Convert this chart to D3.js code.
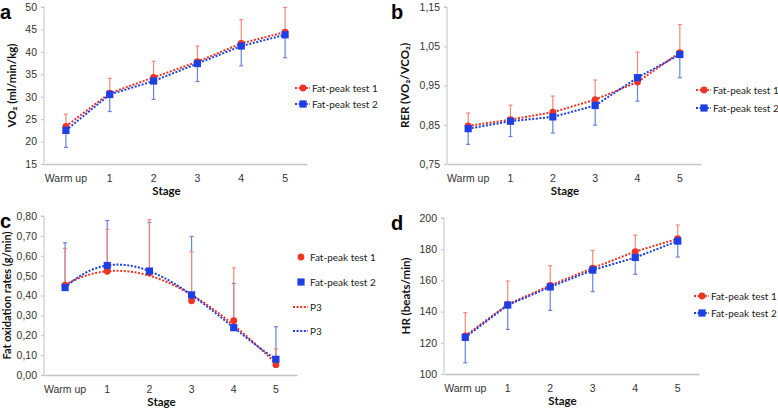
<!DOCTYPE html>
<html>
<head>
<meta charset="utf-8">
<script src="https://cdn.jsdelivr.net/npm/d3@7"></script>
<style>
	body { margin: 0; background: #fff; overflow: hidden; }
	svg { display: block; font-family: Lato, "Open Sans", sans-serif; }
	.tick text { font-size: 10.5px; fill: #333; }
	.axis-title { font-size: 11.5px; font-weight: bold; fill: #111; }
	.panel-letter { font-family: "Liberation Sans", Arial, sans-serif; font-size: 20px; font-weight: bold; }
	.legend text { font-size: 10px; fill: #222; }
</style>
</head>
<body>
<svg id="chart" width="778" height="410"></svg>
<script>

const STAGES = ['Warm up', '1', '2', '3', '4', '5'];

// a: VO2
const VO2_T1 = [23.4, 30.8, 34.3, 37.8, 41.9, 44.4];
const VO2_T2 = [22.5, 30.5, 33.5, 37.4, 41.3, 43.8];
const VO2_T1_UP = [26.1, 34.1, 37.9, 41.3, 47.2, 49.9];
const VO2_T2_LOW = [18.7, 26.7, 29.4, 33.4, 36.9, 38.7];
const VO2_TICKS = [15, 20, 25, 30, 35, 40, 45, 50];

// b: RER
const RER_T1 = [0.847, 0.863, 0.882, 0.914, 0.959, 1.034];
const RER_T2 = [0.840, 0.859, 0.870, 0.899, 0.970, 1.029];
const RER_T1_UP = [0.880, 0.900, 0.923, 0.964, 1.035, 1.105];
const RER_T2_LOW = [0.800, 0.820, 0.829, 0.849, 0.910, 0.970];
const RER_TICKS = [0.75, 0.85, 0.95, 1.05, 1.15];

// c: fat oxidation
const FAT_T1 = [0.452, 0.522, 0.515, 0.373, 0.273, 0.052];
const FAT_T2 = [0.440, 0.551, 0.523, 0.403, 0.238, 0.079];
const FAT_T1_UP = [0.637, 0.733, 0.782, 0.620, 0.539, 0.131];
const FAT_T2_UP = [0.665, 0.777, 0.767, 0.697, 0.461, 0.243];
const FAT_TICKS = [0, 0.1, 0.2, 0.3, 0.4, 0.5, 0.6, 0.7, 0.8];

// d: HR
const HR_T1 = [124.5, 144.6, 156.8, 167.9, 178.5, 186.7];
const HR_T2 = [123.5, 144.2, 155.8, 166.6, 174.7, 185.2];
const HR_T1_UP = [139.3, 159.6, 169.4, 179.2, 189.0, 195.5];
const HR_T2_LOW = [107.2, 128.6, 140.8, 152.8, 163.9, 175.0];
const HR_TICKS = [100, 120, 140, 160, 180, 200];

const RED = '#ee3424';
const BLUE = '#1d3fe4';
const RED_BAR = '#f08a7c';
const BLUE_BAR = '#6a84dc';
const AXIS_GREY = '#c4c4c4';

const svg = d3.select('#chart');
const comma = f => (v => d3.format(f)(v).replace('.', ','));

// least squares cubic (Excel "P3" trendline), x = 1..n
function cubicFit(ys) {
	const n = 4;
	const A = [], b = [];
	for (let i = 0; i < n; i++) {
		A.push(new Array(n).fill(0));
		b.push(0);
	}
	ys.forEach((y, k) => {
		const x = k + 1;
		for (let i = 0; i < n; i++) {
			for (let j = 0; j < n; j++) A[i][j] += Math.pow(x, i + j);
			b[i] += y * Math.pow(x, i);
		}
	});
	for (let i = 0; i < n; i++) {
		let p = i;
		for (let r = i + 1; r < n; r++) if (Math.abs(A[r][i]) > Math.abs(A[p][i])) p = r;
		[A[i], A[p]] = [A[p], A[i]];
		[b[i], b[p]] = [b[p], b[i]];
		for (let r = i + 1; r < n; r++) {
			const f = A[r][i] / A[i][i];
			for (let c = i; c < n; c++) A[r][c] -= f * A[i][c];
			b[r] -= f * b[i];
		}
	}
	const coef = new Array(n).fill(0);
	for (let i = n - 1; i >= 0; i--) {
		let s = b[i];
		for (let c = i + 1; c < n; c++) s -= A[i][c] * coef[c];
		coef[i] = s / A[i][i];
	}
	return x => coef[0] + coef[1] * x + coef[2] * x * x + coef[3] * x * x * x;
}

function drawMarker(g, shape, color, x, y) {
	if (shape === 'circle') {
		g.append('circle').attr('cx', x).attr('cy', y).attr('r', 3.4).attr('fill', color);
	} else {
		g.append('rect').attr('x', x - 3.6).attr('y', y - 3.6)
			.attr('width', 7.2).attr('height', 7.2).attr('fill', color);
	}
}

function drawPanel(cfg) {
	const g = svg.append('g');
	const x = d3.scaleBand().domain(STAGES).range([cfg.x0, cfg.x1]).padding(0);
	const y = d3.scaleLinear().domain(cfg.domain).range([cfg.yBottom, cfg.yTop]);
	const cx = i => x(STAGES[i]) + x.bandwidth() / 2;

	// axes
	const yAxis = g.append('g')
		.attr('transform', `translate(${cfg.x0},0)`)
		.call(d3.axisLeft(y).tickValues(cfg.ticks).tickFormat(cfg.fmt).tickSize(3).tickPadding(4));
	yAxis.selectAll('line, path').attr('stroke', AXIS_GREY);
	yAxis.select('.domain').attr('d', `M-3,${cfg.yTop}H0V${cfg.yBottom}`);

	const xAxis = g.append('g')
		.attr('transform', `translate(0,${cfg.yBottom})`)
		.call(d3.axisBottom(x).tickSize(0).tickPadding(11));
	xAxis.select('.domain').attr('stroke', AXIS_GREY).attr('stroke-width', 1.3);
	xAxis.selectAll('.tick text').attr('font-size', '10.5px');
	yAxis.selectAll('.tick text').attr('font-size', '10.5px');

	g.append('text').attr('class', 'axis-title')
		.attr('x', (cfg.x0 + cfg.x1) / 2 - 9).attr('y', cfg.yBottom + 31)
		.attr('text-anchor', 'middle').text('Stage');

	g.append('text').attr('class', 'axis-title')
		.attr('transform', `translate(${cfg.titleX},${(cfg.yTop + cfg.yBottom) / 2}) rotate(-90)`)
		.attr('text-anchor', 'middle').style('font-size', cfg.titleSize || null).text(cfg.yTitle);

	g.append('text').attr('class', 'panel-letter')
		.attr('x', cfg.letterX).attr('y', cfg.yTop + 12).text(cfg.letter);

	// error bars
	cfg.bars.forEach(bar => {
		bar.ends.forEach((v, i) => {
			const from = bar.from[i];
			g.append('line')
				.attr('x1', cx(i)).attr('x2', cx(i))
				.attr('y1', y(from)).attr('y2', y(v))
				.attr('stroke', bar.color).attr('stroke-width', 1.2);
			g.append('line')
				.attr('x1', cx(i) - 2).attr('x2', cx(i) + 2)
				.attr('y1', y(v)).attr('y2', y(v))
				.attr('stroke', bar.color).attr('stroke-width', 1.2);
		});
	});

	// lines
	cfg.series.forEach(s => {
		let pts;
		if (cfg.trend) {
			const f = cubicFit(s.values);
			pts = d3.range(1, 6.001, 0.05).map(t => [cx(0) + (t - 1) * x.bandwidth(), y(f(t))]);
		} else {
			pts = s.values.map((v, i) => [cx(i), y(v)]);
		}
		g.append('path')
			.attr('d', d3.line()(pts))
			.attr('fill', 'none').attr('stroke', s.color)
			.attr('stroke-width', 2).attr('stroke-dasharray', '2,1.6');
	});

	// markers
	cfg.series.forEach(s => {
		s.values.forEach((v, i) => drawMarker(g, s.shape, s.color, cx(i), y(v)));
	});

	// legend
	const lg = g.append('g').attr('class', 'legend');
	cfg.legend.forEach(item => {
		if (item.line) {
			lg.append('line')
				.attr('x1', cfg.legX).attr('x2', cfg.legX + 15)
				.attr('y1', item.y).attr('y2', item.y)
				.attr('stroke', item.color).attr('stroke-width', 2).attr('stroke-dasharray', '2,1.6');
		}
		if (item.shape) drawMarker(lg, item.shape, item.color, cfg.legX + 8, item.y);
		lg.append('text').attr('x', cfg.legX + 17).attr('y', item.y + 4).text(item.label);
	});
}

whenReady();

function whenReady() {
	const stdLegend = (yA, yB) => [
		{ label: 'Fat-peak test 1', color: RED, shape: 'circle', line: true, y: yA },
		{ label: 'Fat-peak test 2', color: BLUE, shape: 'square', line: true, y: yB }
	];

	drawPanel({
		letter: 'a', letterX: 0, titleX: 16,
		x0: 44, x1: 307, yTop: 7, yBottom: 164,
		domain: [15, 50], ticks: VO2_TICKS, fmt: d3.format('d'),
		yTitle: 'VO₂ (ml/min/kg)',
		series: [
			{ values: VO2_T1, color: RED, shape: 'circle' },
			{ values: VO2_T2, color: BLUE, shape: 'square' }
		],
		bars: [
			{ from: VO2_T1, ends: VO2_T1_UP, color: RED_BAR },
			{ from: VO2_T2, ends: VO2_T2_LOW, color: BLUE_BAR }
		],
		legX: 295, legend: stdLegend(88, 104)
	});

	drawPanel({
		letter: 'b', letterX: 391, titleX: 409,
		x0: 447, x1: 701, yTop: 7, yBottom: 164,
		domain: [0.75, 1.15], ticks: RER_TICKS, fmt: comma('.2f'),
		yTitle: 'RER (VO₂/VCO₂)',
		series: [
			{ values: RER_T1, color: RED, shape: 'circle' },
			{ values: RER_T2, color: BLUE, shape: 'square' }
		],
		bars: [
			{ from: RER_T1, ends: RER_T1_UP, color: RED_BAR },
			{ from: RER_T2, ends: RER_T2_LOW, color: BLUE_BAR }
		],
		legX: 696, legend: stdLegend(90, 108)
	});

	drawPanel({
		letter: 'c', letterX: 0, titleX: 11, titleSize: '11px',
		x0: 44, x1: 297, yTop: 216, yBottom: 375,
		domain: [0, 0.8], ticks: FAT_TICKS, fmt: comma('.2f'),
		yTitle: 'Fat oxidation rates (g/min)', trend: true,
		series: [
			{ values: FAT_T1, color: RED, shape: 'circle' },
			{ values: FAT_T2, color: BLUE, shape: 'square' }
		],
		bars: [
			{ from: FAT_T2, ends: FAT_T2_UP, color: BLUE_BAR },
			{ from: FAT_T1, ends: FAT_T1_UP, color: RED_BAR }
		],
		legX: 293,
		legend: [
			{ label: 'Fat-peak test 1', color: RED, shape: 'circle', y: 257 },
			{ label: 'Fat-peak test 2', color: BLUE, shape: 'square', y: 282 },
			{ label: 'P3', color: RED, line: true, y: 307 },
			{ label: 'P3', color: BLUE, line: true, y: 331 }
		]
	});

	drawPanel({
		letter: 'd', letterX: 391, titleX: 410,
		x0: 444, x1: 699, yTop: 218, yBottom: 374,
		domain: [100, 200], ticks: HR_TICKS, fmt: d3.format('d'),
		yTitle: 'HR (beats/min)',
		series: [
			{ values: HR_T1, color: RED, shape: 'circle' },
			{ values: HR_T2, color: BLUE, shape: 'square' }
		],
		bars: [
			{ from: HR_T1, ends: HR_T1_UP, color: RED_BAR },
			{ from: HR_T2, ends: HR_T2_LOW, color: BLUE_BAR }
		],
		legX: 694, legend: stdLegend(296, 313)
	});
}
</script>
</body>
</html>
